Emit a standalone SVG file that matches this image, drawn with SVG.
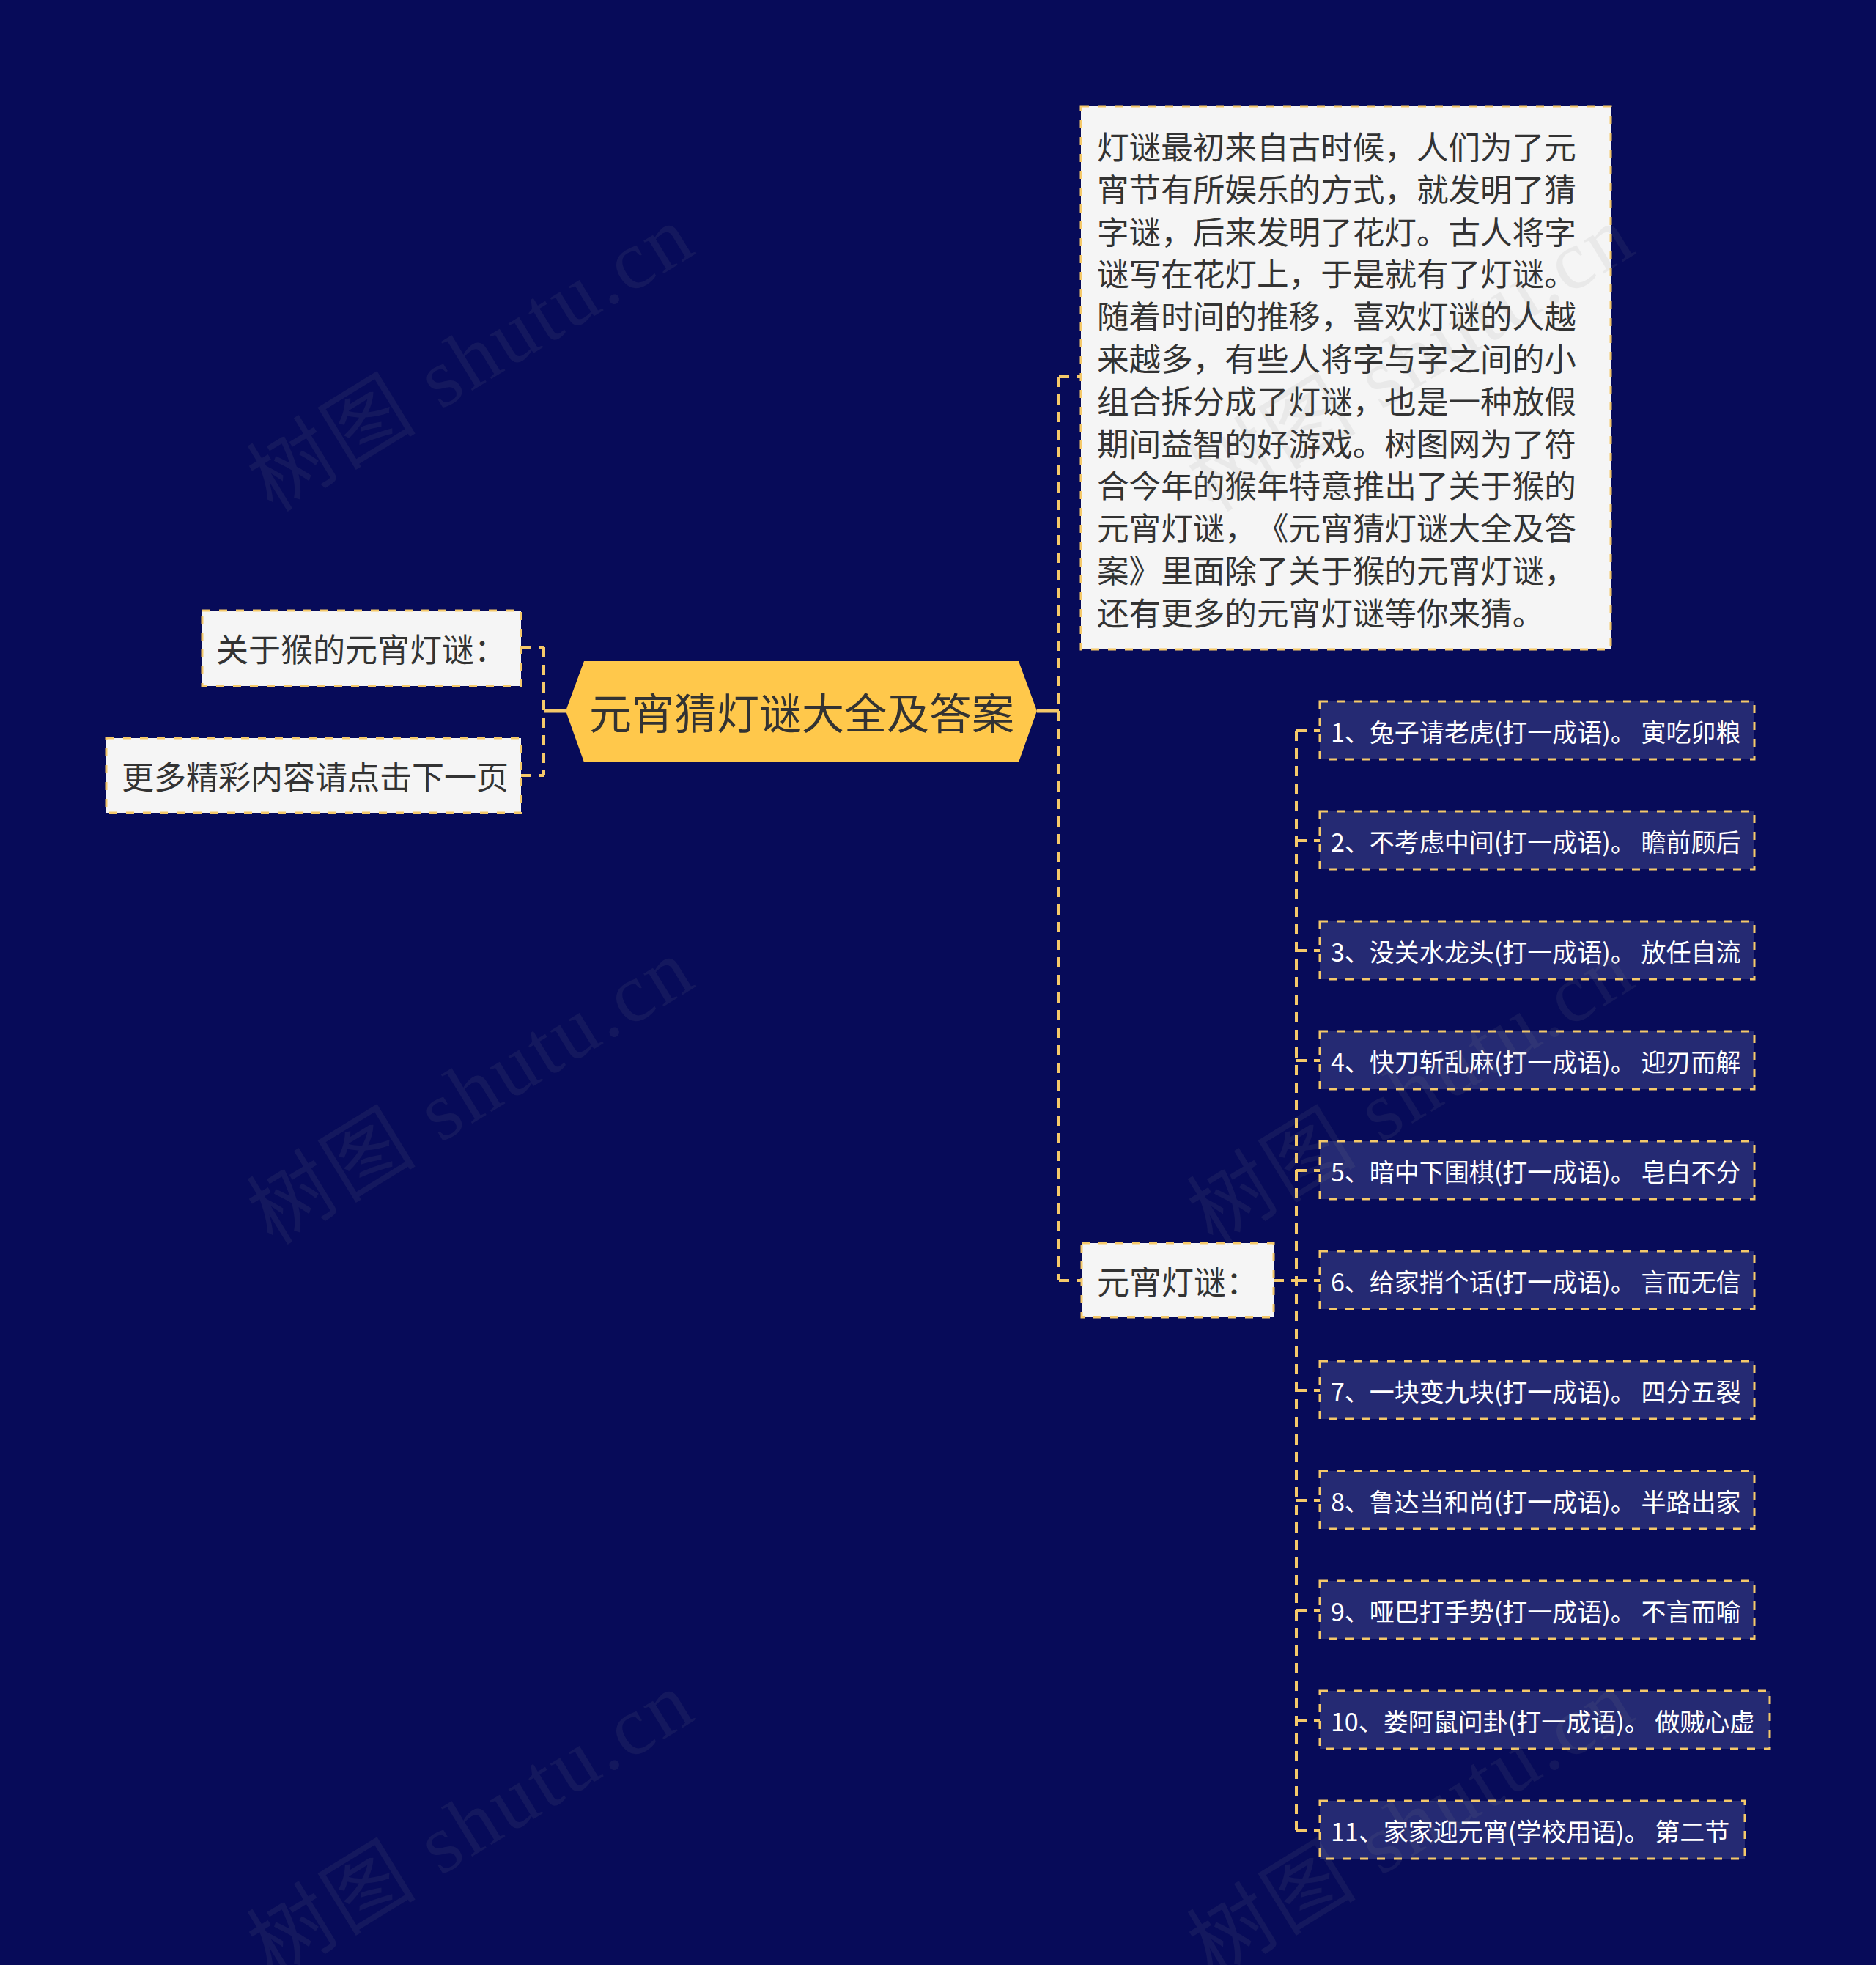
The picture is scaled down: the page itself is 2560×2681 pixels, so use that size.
<svg xmlns="http://www.w3.org/2000/svg" width="2560" height="2681" viewBox="0 0 2560 2681">
<style>
.bg{fill:#070b59}
.lbox{fill:#f5f5f5;stroke:#f5c96a;stroke-width:3;stroke-dasharray:11 12}
.ibox{fill:#252a73;stroke:#f5c96a;stroke-width:3;stroke-dasharray:11 12}
text{text-spacing-trim:space-all}
.dk{font-family:"Noto Sans CJK SC","Noto Sans",sans-serif;fill:#333333;dominant-baseline:central}
.wt{font-family:"Noto Sans CJK SC","Noto Sans",sans-serif;fill:#ffffff;font-size:34px;dominant-baseline:central}
.cn{fill:none;stroke:#f5c96a;stroke-width:4;stroke-dasharray:14 10}
.sol{fill:none;stroke:#f5c96a;stroke-width:5}
.wm{font-family:"Liberation Serif","Noto Sans CJK SC",serif;font-size:114px;fill:#8a8a8a;opacity:0.1}
</style>
<rect class="bg" x="0" y="0" width="2560" height="2681"/>
<g id="connectors">
<path class="sol" d="M742 970 H772 M1415 970 H1445"/>
<path class="cn" d="M742 883 V1058 M711 883 H742 M711 1058 H742"/>
<path class="cn" d="M1445 514 V1747 M1445 514 H1475 M1445 1747 H1476"/>
<path class="cn" d="M1738 1747 H1769 M1769 997 V2497"/>
<path class="cn" d="M1769 997 H1801 M1769 1147 H1801 M1769 1297 H1801 M1769 1447 H1801 M1769 1597 H1801 M1769 1747 H1801 M1769 1897 H1801 M1769 2047 H1801 M1769 2197 H1801 M1769 2347 H1801 M1769 2497 H1801"/>
</g>
<g id="root">
<polygon points="772,970 797,902 1390,902 1415,970 1390,1040 797,1040" fill="#ffc84b"/>
<text class="dk" x="1094" y="970" font-size="58" text-anchor="middle">元宵猜灯谜大全及答案</text>
</g>
<g id="n-monkey">
<rect class="lbox" x="276" y="833" width="435" height="103"/>
<text class="dk" x="295" y="884" font-size="44">关于猴的元宵灯谜：</text>
</g>
<g id="n-more">
<rect class="lbox" x="145" y="1007" width="566" height="102"/>
<text class="dk" x="166" y="1058" font-size="44">更多精彩内容请点击下一页</text>
</g>
<g id="n-desc">
<rect class="lbox" x="1475" y="145" width="723" height="741"/>
<text class="dk" font-size="43.6">
<tspan x="1497" y="198">灯谜最初来自古时候，人们为了元</tspan>
<tspan x="1497" y="255.8">宵节有所娱乐的方式，就发明了猜</tspan>
<tspan x="1497" y="313.6">字谜，后来发明了花灯。古人将字</tspan>
<tspan x="1497" y="371.4">谜写在花灯上，于是就有了灯谜。</tspan>
<tspan x="1497" y="429.2">随着时间的推移，喜欢灯谜的人越</tspan>
<tspan x="1497" y="487">来越多，有些人将字与字之间的小</tspan>
<tspan x="1497" y="544.8">组合拆分成了灯谜，也是一种放假</tspan>
<tspan x="1497" y="602.6">期间益智的好游戏。树图网为了符</tspan>
<tspan x="1497" y="660.4">合今年的猴年特意推出了关于猴的</tspan>
<tspan x="1497" y="718.2">元宵灯谜，《元宵猜灯谜大全及答</tspan>
<tspan x="1497" y="776">案》里面除了关于猴的元宵灯谜，</tspan>
<tspan x="1497" y="833.8">还有更多的元宵灯谜等你来猜。</tspan>
</text>
</g>
<g id="n-riddles">
<rect class="lbox" x="1476" y="1696" width="262" height="101"/>
<text class="dk" x="1497" y="1747" font-size="44">元宵灯谜：</text>
</g>
<g id="item1"><rect class="ibox" x="1801" y="957" width="593" height="79"/><text class="wt" x="1816" y="997">1、兔子请老虎(打一成语)。 寅吃卯粮</text></g>
<g id="item2"><rect class="ibox" x="1801" y="1107" width="593" height="79"/><text class="wt" x="1816" y="1147">2、不考虑中间(打一成语)。 瞻前顾后</text></g>
<g id="item3"><rect class="ibox" x="1801" y="1257" width="593" height="79"/><text class="wt" x="1816" y="1297">3、没关水龙头(打一成语)。 放任自流</text></g>
<g id="item4"><rect class="ibox" x="1801" y="1407" width="593" height="79"/><text class="wt" x="1816" y="1447">4、快刀斩乱麻(打一成语)。 迎刃而解</text></g>
<g id="item5"><rect class="ibox" x="1801" y="1557" width="593" height="79"/><text class="wt" x="1816" y="1597">5、暗中下围棋(打一成语)。 皂白不分</text></g>
<g id="item6"><rect class="ibox" x="1801" y="1707" width="593" height="79"/><text class="wt" x="1816" y="1747">6、给家捎个话(打一成语)。 言而无信</text></g>
<g id="item7"><rect class="ibox" x="1801" y="1857" width="593" height="79"/><text class="wt" x="1816" y="1897">7、一块变九块(打一成语)。 四分五裂</text></g>
<g id="item8"><rect class="ibox" x="1801" y="2007" width="593" height="79"/><text class="wt" x="1816" y="2047">8、鲁达当和尚(打一成语)。 半路出家</text></g>
<g id="item9"><rect class="ibox" x="1801" y="2157" width="593" height="79"/><text class="wt" x="1816" y="2197">9、哑巴打手势(打一成语)。 不言而喻</text></g>
<g id="item10"><rect class="ibox" x="1801" y="2307" width="614" height="79"/><text class="wt" x="1816" y="2347">10、娄阿鼠问卦(打一成语)。 做贼心虚</text></g>
<g id="item11"><rect class="ibox" x="1801" y="2457" width="580" height="79"/><text class="wt" x="1816" y="2497">11、家家迎元宵(学校用语)。 第二节</text></g>
<g id="watermark">
<text class="wm" x="372" y="700" transform="rotate(-31.5 372 700)" textLength="680">树图 shutu.cn</text>
<text class="wm" x="1655" y="700" transform="rotate(-31.5 1655 700)" textLength="680">树图 shutu.cn</text>
<text class="wm" x="372" y="1700" transform="rotate(-31.5 372 1700)" textLength="680">树图 shutu.cn</text>
<text class="wm" x="1655" y="1700" transform="rotate(-31.5 1655 1700)" textLength="680">树图 shutu.cn</text>
<text class="wm" x="372" y="2700" transform="rotate(-31.5 372 2700)" textLength="680">树图 shutu.cn</text>
<text class="wm" x="1655" y="2700" transform="rotate(-31.5 1655 2700)" textLength="680">树图 shutu.cn</text>
</g>
</svg>
